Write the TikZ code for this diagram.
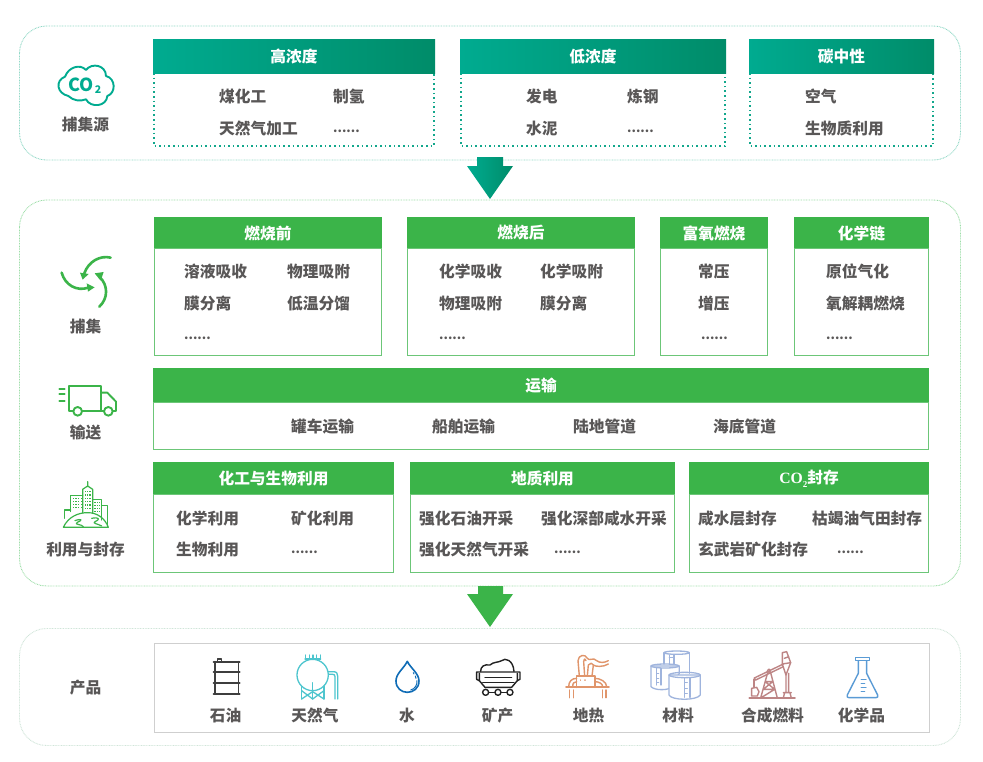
\documentclass[tikz,border=0pt]{standalone}
\usepackage{fontspec}
\setmainfont{Noto Sans CJK SC}
\newfontfamily\latserif{Liberation Serif}
\usetikzlibrary{calc}
\definecolor{txtgray}{HTML}{595757}
\definecolor{tealA}{HTML}{00AB90}
\definecolor{tealB}{HTML}{008C69}
\definecolor{tealdot}{HTML}{12A78C}
\definecolor{gbar}{HTML}{3BB449}
\definecolor{panelT}{HTML}{8FD8C6}
\definecolor{panelG}{HTML}{9BDDA6}
\definecolor{panelP}{HTML}{CFE5D8}
\definecolor{prodline}{HTML}{CFCFCF}
\definecolor{bodyline}{HTML}{6CC678}
\definecolor{iBarrel}{HTML}{3E3E3E}
\definecolor{iGas}{HTML}{4DC5CE}
\definecolor{iDrop}{HTML}{0F6CB6}
\definecolor{iCart}{HTML}{222222}
\definecolor{iGeo}{HTML}{E0956B}
\definecolor{iMat}{HTML}{9FB4DD}
\definecolor{iPump}{HTML}{BD8585}
\definecolor{iFlask}{HTML}{5A9BD5}
\tikzset{
  x=1pt,y=-1pt,
  item/.style={font=\bfseries\fontsize{15.7}{15.7}\selectfont,text=txtgray,anchor=base west,inner sep=0pt},
  dots/.style={font=\bfseries\fontsize{12.6}{12.6}\selectfont,text=txtgray,anchor=base west,inner sep=0pt},
  side/.style={font=\bfseries\fontsize{15.7}{15.7}\selectfont,text=txtgray,inner sep=0pt},
  head/.style={font=\bfseries\fontsize{15.7}{15.7}\selectfont,text=white,inner sep=0pt},
  panelline/.style={line width=.9pt,dash pattern=on .8pt off .8pt,rounded corners=27pt},
  tealbody/.style={draw=tealdot,line width=1.6pt,dash pattern=on 1.6pt off 3pt},
  greenbody/.style={draw=bodyline,line width=1pt},
  zA/.style={shift={(190,640)},x=.3333pt,y=-.3333pt,line cap=round,line join=round},
  zB/.style={shift={(550,640)},x=.3333pt,y=-.3333pt,line cap=round,line join=round},
  zC/.style={shift={(20,210)},x=.3333pt,y=-.3333pt,line cap=round,line join=round},
  zD/.style={shift={(0,10)},x=.3333pt,y=-.3333pt,line cap=round,line join=round},
}
% \tealbox{name}{x1}{x2}{title}
\newcommand{\tealbox}[4]{%
  \draw[tealbody] (#2+1,73) -- (#2+1,146) -- (#3-1,146) -- (#3-1,73);
  \shade[left color=tealA,right color=tealB] (#2,39) rectangle (#3,73);
  \node[head] (#1) at ({(#2+#3)/2},57) {#4};
}
% \greenbox{name}{x1}{x2}{y1}{y2}{y3}{title}
\newcommand{\greenbox}[7]{%
  \draw[greenbody] (#2+.5,#5) rectangle (#3-.5,#6);
  \fill[gbar] (#2,#4) rectangle (#3,#5);
  \node[head] (#1) at ({(#2+#3)/2},{(#4+#5)/2+.5}) {#7};
}
\newcommand{\itm}[4]{\node[item] (#1) at (#2,#3+6.5) {#4};}
\newcommand{\dts}[3]{\node[dots] (#1) at (#2,#3+4) {......};}
\begin{document}
\begin{tikzpicture}
\useasboundingbox (0,0) rectangle (983,761);
\fill[white] (0,0) rectangle (983,761);
% panels
\draw[panelline,draw=panelT] (19.5,26) rectangle (960.5,160);
\draw[panelline,draw=panelG] (19.5,200) rectangle (960.5,586);
\draw[panelline,draw=panelP] (19.5,628.5) rectangle (960.5,745.5);
% block arrows
\shade[left color=tealA,right color=tealB,shading angle=90] (477,157) -- (503,157) -- (503,166) -- (513,166) -- (490,199) -- (467,166) -- (477,166) -- cycle;
\fill[gbar] (478,586) -- (503,586) -- (503,594) -- (513,594) -- (490,627) -- (467,594) -- (478,594) -- cycle;
% row 1
\tealbox{h1}{153}{435}{高浓度}
\tealbox{h2}{460}{726}{低浓度}
\tealbox{h3}{749}{934}{碳中性}
\itm{a1}{219}{96}{煤化工}
\itm{a2}{333}{96}{制氢}
\itm{a3}{219}{128}{天然气加工}
\dts{a4}{333}{128}
\itm{b1}{526}{96}{发电}
\itm{b2}{627}{96}{炼钢}
\itm{b3}{526}{128}{水泥}
\dts{b4}{627}{128}
\itm{c1}{805}{96}{空气}
\itm{c2}{805}{128}{生物质利用}
% row 2
\greenbox{h4}{154}{382}{217}{248}{355}{燃烧前}
\greenbox{h5}{407}{635}{217}{248}{355}{燃烧后}
\greenbox{h6}{660}{768}{217}{248}{355}{富氧燃烧}
\greenbox{h7}{794}{929}{217}{248}{355}{化学链}
\itm{d1}{184}{271}{溶液吸收}
\itm{d2}{287}{271}{物理吸附}
\itm{d3}{184}{303}{膜分离}
\itm{d4}{287}{303}{低温分馏}
\dts{d5}{184}{335}
\itm{e1}{439}{271}{化学吸收}
\itm{e2}{540}{271}{化学吸附}
\itm{e3}{439}{303}{物理吸附}
\itm{e4}{540}{303}{膜分离}
\dts{e5}{439}{335}
\itm{f1}{698}{271}{常压}
\itm{f2}{698}{303}{增压}
\dts{f3}{701}{335}
\itm{g1}{826}{271}{原位气化}
\itm{g2}{826}{303}{氧解耦燃烧}
\dts{g3}{826}{335}
% transport
\greenbox{h8}{153}{929}{368}{402}{449}{运输}
\itm{i1}{291}{426}{罐车运输}
\itm{i2}{432}{426}{船舶运输}
\itm{i3}{573}{426}{陆地管道}
\itm{i4}{713}{426}{海底管道}
% row 3
\greenbox{h9}{153}{394}{462}{494}{572}{化工与生物利用}
\greenbox{h10}{410}{675}{462}{494}{572}{地质利用}
\greenbox{h11}{689}{929}{462}{494}{572}{{\latserif CO\raisebox{-.25em}{\fontsize{9}{9}\selectfont 2}}封存}
\itm{j1}{176}{518}{化学利用}
\itm{j2}{291}{518}{矿化利用}
\itm{j3}{176}{549}{生物利用}
\dts{j4}{291}{549}
\itm{k1}{419}{518}{强化石油开采}
\itm{k2}{541}{518}{强化深部咸水开采}
\itm{k3}{419}{549}{强化天然气开采}
\dts{k4}{554}{549}
\itm{l1}{698}{518}{咸水层封存}
\itm{l2}{812}{518}{枯竭油气田封存}
\itm{l3}{698}{549}{玄武岩矿化封存}
\dts{l4}{837}{549}
% product box
\draw[prodline,line width=1pt] (154,643.5) rectangle (929,732);
% side labels
\node[side] (s1) at (85.5,124.5) {捕集源};
\node[side] (s2) at (85.5,326.5) {捕集};
\node[side] (s3) at (85.5,432.5) {输送};
\node[side] (s4) at (85.5,549.5) {利用与封存};
\node[side] (s5) at (85.5,687.5) {产品};
\node[side] (p1) at (225.5,715.5) {石油};
\node[side] (p2) at (315,715.5) {天然气};
\node[side] (p3) at (407,715.5) {水};
\node[side] (p4) at (497.5,715.5) {矿产};
\node[side] (p5) at (588.5,715.5) {地热};
\node[side] (p6) at (678,715.5) {材料};
\node[side] (p7) at (772.5,715.5) {合成燃料};
\node[side] (p8) at (861.5,715.5) {化学品};
% CO2 cloud
\begin{scope}[zD,draw=tealA,line width=1.9pt]
\draw (205,258) .. controls (170,250) and (165,212) .. (195,200)
  .. controls (205,172) and (240,160) .. (258,180)
  .. controls (275,157) and (318,165) .. (318,198)
  .. controls (348,205) and (348,250) .. (322,258)
  .. controls (320,290) and (272,295) .. (258,268)
  .. controls (240,275) and (220,272) .. (205,258) -- cycle;
\node[font=\bfseries\fontsize{18}{18}\selectfont,text=tealA,inner sep=0pt] (co) at (243,224) {CO};
\node[font=\bfseries\fontsize{10.5}{10.5}\selectfont,text=tealA,inner sep=0pt] (co2) at (294,240) {2};
\end{scope}
% capture arrows
\begin{scope}[zC,draw=gbar,fill=gbar,line width=2.6pt]
\draw (272,143) .. controls (240,135) and (205,155) .. (193,190);
\fill (180,188) -- (206,192) -- (188,209) -- cycle;
\draw (125,188) .. controls (135,225) and (170,245) .. (205,233);
\fill (200,220) -- (224,232) -- (204,245) -- cycle;
\draw (238,290) .. controls (265,265) and (265,225) .. (238,200);
\fill (224,190) -- (251,186) -- (242,212) -- cycle;
\end{scope}
% truck
\begin{scope}[zC,draw=gbar,line width=1.9pt]
\draw (160,603) -- (147,603) -- (147,527) -- (243,527) -- (243,603) -- (187,603);
\draw (243,548) -- (262,548) -- (288,575) -- (288,603) -- (279,603);
\draw (252,603) -- (243,603);
\draw (173,604) circle[radius=13];
\draw (265,604) circle[radius=13];
\draw (118,536) -- (134,536) (118,553) -- (134,553) (118,572) -- (134,572);
\end{scope}
% city
\begin{scope}[zC,draw=gbar,line width=1.2pt]
\draw (203,815) -- (203,830) (188,908) -- (188,838) -- (203,828) -- (218,838) -- (218,908);
\draw (188,856) -- (152,856) -- (152,905);
\draw (218,868) -- (245,868) -- (245,930);
\draw (152,900) -- (133,900) -- (133,925);
\draw (245,887) -- (263,887) -- (263,950);
\draw (130,952) .. controls (145,920) and (175,908) .. (203,908) .. controls (232,908) and (255,925) .. (265,952) -- cycle;
\draw (165,932) .. controls (185,925) and (190,930) .. (172,937) .. controls (160,945) and (185,942) .. (190,950);
\draw (215,925) .. controls (240,920) and (240,930) .. (225,935) .. controls (215,940) and (235,942) .. (245,948);
\foreach \x in {160,168,176,184} \foreach \y in {865,874,883,892} \fill[gbar] (\x-1.8,\y-1.8) rectangle (\x+1.8,\y+1.8);
\foreach \x in {196,203,210} \foreach \y in {845,855,865,875,885,895} \fill[gbar] (\x-1.8,\y-1.8) rectangle (\x+1.8,\y+1.8);
\foreach \x in {225,232,239} \foreach \y in {877,886,895,904} \fill[gbar] (\x-1.8,\y-1.8) rectangle (\x+1.8,\y+1.8);
\end{scope}
% barrel
\begin{scope}[zA,draw=iBarrel,line width=1.4pt]
\draw (75,65) -- (75,160) (145,65) -- (145,160);
\draw[line width=2pt] (71,65) -- (149,65) (71,97) -- (149,97) (71,128) -- (149,128) (71,161) -- (149,161);
\draw (82,62) -- (82,57) -- (94,57) -- (94,62);
\end{scope}
% gas tank
\begin{scope}[zA,draw=iGas,line width=1.3pt]
\draw (368,105) circle[radius=47];
\draw (345,57) -- (392,57);
\foreach \x in {347,358,369,380,391} \draw (\x,45) -- (\x,57);
\draw (335,138) -- (335,177) (402,138) -- (402,177) (368,128) -- (368,177);
\draw (335,177) -- (368,155) -- (402,177) (335,152) -- (368,177) -- (402,152);
\draw (415,95) -- (430,95) .. controls (440,95) and (443,100) .. (443,108) -- (443,177);
\draw (416,103) -- (428,103) .. controls (433,103) and (435,105) .. (435,110) -- (435,177);
\end{scope}
% drop
\begin{scope}[zA,draw=iDrop,line width=1.6pt]
\draw (652,64) .. controls (642,85) and (618,100) .. (618,123) .. controls (618,145) and (635,157) .. (652,157) .. controls (670,157) and (687,145) .. (687,123) .. controls (687,100) and (662,85) .. (652,64) -- cycle;
\draw[line width=1pt] (662,150) .. controls (675,147) and (682,135) .. (681,122);
\draw[line width=1pt] (678,115) -- (676,108) (672,102) -- (670,98);
\end{scope}
% cart
\begin{scope}[zA,draw=iCart,line width=1.4pt]
\draw (872,94) .. controls (872,80) and (882,72) .. (900,75) .. controls (910,65) and (925,68) .. (935,62) .. controls (945,52) and (970,60) .. (972,94);
\draw (860,96) -- (990,96) -- (990,118) -- (982,122) (860,96) -- (860,118) -- (868,122);
\draw (868,100) -- (868,122) -- (885,142) -- (965,142) -- (982,122) -- (982,100);
\draw (885,113) -- (965,113) (878,128) -- (972,128);
\draw (887,157) circle[radius=9] (924,157) circle[radius=9] (960,157) circle[radius=9];
\draw (896,157) -- (915,157) (933,157) -- (951,157);
\end{scope}
% geothermal
\begin{scope}[zB,draw=iGeo,line width=1.4pt]
\draw[line width=1.8pt] (48,142) -- (177,142);
\draw (58,150) -- (58,173) (70,150) -- (70,173) (157,150) -- (157,173) (168,150) -- (168,173);
\draw (80,142) -- (80,108) -- (135,108) -- (135,142);
\draw (56,140) .. controls (56,125) and (65,115) .. (80,115) (68,140) .. controls (68,130) and (72,125) .. (80,125);
\draw (170,140) .. controls (170,125) and (150,115) .. (135,115) (158,140) .. controls (158,130) and (145,125) .. (135,125);
\draw (88,108) -- (84,62) .. controls (85,45) and (105,40) .. (112,55) .. controls (118,65) and (130,50) .. (140,62) .. controls (150,70) and (165,68) .. (175,62);
\draw (104,108) -- (101,65) .. controls (103,55) and (105,55) .. (108,62);
\draw (112,108) -- (115,75) .. controls (120,68) and (128,68) .. (130,75) .. controls (135,80) and (160,82) .. (175,72);
\draw (126,108) -- (130,76);
\draw (92,120) -- (92,120.5) (105,120) -- (105,120.5);
\end{scope}
% tanks
\begin{scope}[zB,draw=iMat,line width=1.3pt,fill=white]
\draw (342,38) -- (342,72) (418,38) -- (418,100);
\draw (380,38) ellipse[x radius=38,y radius=5];
\draw (358,45) -- (358,72) (372,45) -- (372,72) (358,52) -- (372,52);
\filldraw (303,78) -- (303,140) .. controls (315,152) and (350,150) .. (358,145) -- (388,100) -- (388,78) -- cycle;
\draw (345,78) ellipse[x radius=42,y radius=6];
\draw (320,85) -- (320,135) (333,85) -- (333,135) (320,100) -- (326,100) (320,115) -- (326,115) (320,128) -- (326,128);
\filldraw (357,105) -- (357,165) .. controls (365,182) and (440,182) .. (451,165) -- (451,105) -- cycle;
\draw (404,105) ellipse[x radius=47,y radius=8];
\draw (404,114) -- (404,172) (420,114) -- (420,172) (404,128) -- (412,128) (404,145) -- (412,145) (404,160) -- (412,160);
\end{scope}
% pump jack
\begin{scope}[zB,draw=iPump,line width=1.4pt]
\draw[line width=1.8pt] (598,174) -- (735,174);
\draw (613,114) -- (700,72) (617,120) -- (700,80);
\draw (613,114) -- (617,120);
\draw (697,38) -- (710,35) -- (722,68) -- (708,105) -- (697,72) -- cycle;
\draw (697,72) -- (722,68) (703,55) -- (716,50);
\draw (708,105) -- (708,158) (716,100) -- (716,158) (700,158) -- (724,158) (704,158) -- (700,174) (720,158) -- (724,174);
\draw (657,92) circle[radius=5];
\draw (632,174) -- (653,98) (662,98) -- (682,174) (640,148) -- (674,148) (646,125) -- (668,125) (640,148) -- (668,125) (632,174) -- (674,148) (646,125) -- (674,148);
\draw (612,118) -- (612,142);
\draw (605,145) -- (620,142) -- (627,155) -- (622,168) -- (605,168) -- cycle;
\end{scope}
% flask
\begin{scope}[zB,draw=iFlask,line width=1.4pt]
\draw (917,52) -- (958,52) -- (958,62) -- (917,62) -- cycle;
\draw (925,62) -- (925,100) -- (892,165) .. controls (890,170) and (892,173) .. (897,173) -- (978,173) .. controls (983,173) and (985,170) .. (983,165) -- (950,100) -- (950,62);
\draw (934,119) -- (948,119) (934,131) -- (944,131) (934,143) -- (948,143) (934,155) -- (944,155);
\end{scope}
\end{tikzpicture}
\end{document}
